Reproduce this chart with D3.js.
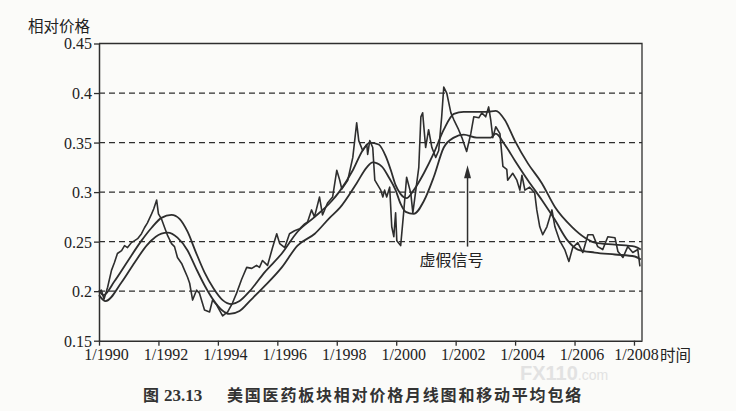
<!DOCTYPE html>
<html><head><meta charset="utf-8">
<script src="https://cdn.jsdelivr.net/npm/d3@7/dist/d3.min.js"></script>
<style>
body{margin:0;background:#fbfbf9}svg{display:block}
.serif{font-family:"Liberation Serif","Times New Roman","DejaVu Serif",serif}
.cjk{font-family:"Noto Sans CJK SC","Noto Sans",sans-serif}
</style>
</head><body><svg id="c" width="736" height="411"></svg>
<script>
// ---- data ----
const priceYears = [1990.00,1990.08,1990.17,1990.29,1990.42,1990.52,1990.62,1990.76,1990.86,1990.96,
1991.09,1991.20,1991.30,1991.43,1991.53,1991.63,1991.77,1991.84,1991.94,1992.00,1992.10,1992.21,1992.31,
1992.44,1992.54,1992.64,1992.78,1992.88,1992.98,1993.05,1993.15,1993.28,1993.38,1993.55,1993.72,1993.82,
1993.96,1994.16,1994.33,1994.49,1994.63,1994.80,1994.97,1995.14,1995.30,1995.40,1995.50,1995.67,1995.84,
1995.98,1996.08,1996.25,1996.41,1996.58,1996.75,1996.92,1997.02,1997.15,1997.25,1997.42,1997.52,1997.69,
1997.86,1998.00,1998.10,1998.17,1998.37,1998.54,1998.67,1998.74,1998.87,1999.01,1999.04,1999.11,1999.21,
1999.28,1999.34,1999.48,1999.55,1999.61,1999.68,1999.78,1999.85,1999.92,1999.98,2000.02,2000.15,2000.25,
2000.35,2000.49,2000.56,2000.66,2000.76,2000.83,2000.89,2000.99,2001.09,2001.20,2001.33,2001.43,2001.53,
2001.60,2001.70,2001.84,2001.94,2002.10,2002.21,2002.37,2002.51,2002.61,2002.78,2002.88,2003.01,2003.11,
2003.18,2003.25,2003.35,2003.49,2003.59,2003.72,2003.75,2003.92,2004.06,2004.16,2004.23,2004.33,2004.49,
2004.66,2004.73,2004.83,2004.93,2005.07,2005.24,2005.34,2005.50,2005.67,2005.81,2005.94,2006.11,2006.28,
2006.45,2006.62,2006.78,2006.95,2007.12,2007.36,2007.46,2007.63,2007.79,2007.96,2008.13,2008.20];
const priceValues = [0.200,0.201,0.192,0.204,0.221,0.229,0.238,0.241,0.246,0.244,
0.249,0.251,0.253,0.258,0.264,0.269,0.278,0.283,0.292,0.278,0.273,0.264,0.256,
0.248,0.245,0.234,0.228,0.221,0.214,0.208,0.191,0.201,0.198,0.181,0.179,0.191,
0.186,0.175,0.179,0.188,0.198,0.212,0.224,0.223,0.226,0.224,0.231,0.226,0.244,
0.258,0.248,0.244,0.258,0.261,0.263,0.268,0.270,0.282,0.275,0.295,0.277,0.289,
0.295,0.322,0.312,0.303,0.312,0.335,0.370,0.352,0.342,0.348,0.338,0.352,0.345,
0.312,0.309,0.302,0.295,0.302,0.295,0.305,0.265,0.255,0.279,0.251,0.246,0.279,
0.315,0.299,0.279,0.302,0.325,0.376,0.380,0.345,0.363,0.345,0.335,0.342,0.376,
0.406,0.400,0.380,0.373,0.363,0.355,0.341,0.359,0.376,0.375,0.380,0.376,0.386,
0.373,0.355,0.366,0.359,0.326,0.323,0.312,0.319,0.312,0.302,0.317,0.302,0.305,
0.299,0.282,0.265,0.257,0.265,0.282,0.265,0.251,0.242,0.230,0.244,0.249,0.239,
0.257,0.257,0.245,0.242,0.255,0.254,0.240,0.234,0.245,0.239,0.242,0.225];

const upperYears = [1990.00,1990.15,1990.52,1990.96,1991.43,1991.77,1992.10,1992.44,1992.71,1992.98,
1993.25,1993.55,1993.85,1994.16,1994.46,1994.73,1995.07,1995.57,1996.15,1996.68,1997.26,1997.83,1998.10,
1998.54,1998.87,1999.11,1999.41,1999.65,1999.82,1999.98,2000.15,2000.35,2000.59,2000.93,2001.26,2001.60,
2001.94,2002.27,2003.05,2003.35,2003.65,2003.99,2004.43,2004.90,2005.34,2005.91,2006.35,2006.68,2007.36,
2008.03,2008.23];
const upperValues = [0.201,0.196,0.210,0.230,0.251,0.264,0.274,0.277,0.273,0.260,
0.240,0.219,0.203,0.191,0.187,0.190,0.200,0.219,0.238,0.260,0.275,0.291,0.301,
0.322,0.342,0.350,0.348,0.336,0.322,0.307,0.298,0.294,0.302,0.319,0.339,0.363,
0.379,0.381,0.381,0.382,0.373,0.352,0.329,0.309,0.285,0.265,0.254,0.249,0.247,
0.245,0.242];

const lowerYears = [1990.00,1990.22,1990.76,1991.20,1991.63,1992.10,1992.31,1992.64,1992.98,1993.25,
1993.55,1993.85,1994.13,1994.39,1994.73,1995.07,1995.57,1996.15,1996.68,1997.26,1997.76,1998.10,1998.67,
1999.01,1999.21,1999.51,1999.75,1999.98,2000.15,2000.32,2000.59,2000.93,2001.26,2001.60,2001.94,2002.27,
2002.71,2003.18,2003.35,2003.65,2003.99,2004.43,2004.90,2005.34,2005.77,2006.11,2006.68,2007.36,2008.03,
2008.23];
const lowerValues = [0.196,0.190,0.209,0.229,0.247,0.258,0.259,0.254,0.241,0.224,
0.206,0.191,0.181,0.177,0.180,0.190,0.205,0.224,0.246,0.258,0.274,0.284,0.309,
0.325,0.330,0.326,0.315,0.302,0.288,0.280,0.278,0.291,0.315,0.345,0.355,0.358,
0.355,0.355,0.359,0.348,0.332,0.312,0.292,0.272,0.251,0.242,0.239,0.237,0.235,
0.232];

const yTickValues = [0.15,0.2,0.25,0.3,0.35,0.4,0.45];
const yTickLabels = ["0.15","0.2","0.25","0.3","0.35","0.4","0.45"];
const gridValues = [0.2,0.25,0.3,0.35,0.4];
const xTickYears = [1990,1992,1994,1996,1998,2000,2002,2004,2006,2008];
const xTickLabels = ["1/1990","1/1992","1/1994","1/1996","1/1998","1/2000","1/2002","1/2004","1/2006","1/2008"];
const yTitle = "相对价格";
const xTitle = "时间";
const caption = ["图","23.13","美国医药板块相对价格月线图和移动平均包络"];
const note = {text:"虚假信号", year:2002.4, from:0.245, to:0.327};
const watermark = ["FX110", ".com"];

// ---- drawing ----
const svg = d3.select("#c");
const ink = "#2e2e2e";

const x = d3.scaleLinear().domain([1990, 2008.27]).range([99, 642]);
const y = d3.scaleLinear().domain([0.15, 0.45]).range([340.7, 43.5]);

// faint watermark, placed in the free band below the tick labels
const wm = svg.append("text").attr("x",520).attr("y",380)
  .style("font-family","'Liberation Sans',Arial,sans-serif").attr("fill","#e2e2e2");
wm.append("tspan").attr("font-weight","bold").attr("font-size",20).text(watermark[0]);
wm.append("tspan").attr("font-size",14).text(watermark[1]);

// dashed grid
svg.append("g").selectAll("line").data(gridValues).join("line")
  .attr("x1",x.range()[0]).attr("x2",x.range()[1])
  .attr("y1",d=>y(d)).attr("y2",d=>y(d))
  .attr("stroke",ink).attr("stroke-width",1.2).attr("stroke-dasharray","6,4");

// frame top/right
svg.append("path")
  .attr("d",`M${x.range()[0]},${y(0.45)}H${x.range()[1]}V${y(0.15)}`)
  .attr("fill","none").attr("stroke",ink).attr("stroke-width",1.3);

// series
const mk = (ys, vs) => ys.map((t,i)=>[t, vs[i]]);
const smooth = d3.line().x(d=>x(d[0])).y(d=>y(d[1])).curve(d3.curveMonotoneX);
const jag = d3.line().x(d=>x(d[0])).y(d=>y(d[1]));
svg.append("path").datum(mk(upperYears,upperValues)).attr("d",smooth)
  .attr("fill","none").attr("stroke",ink).attr("stroke-width",1.8);
svg.append("path").datum(mk(lowerYears,lowerValues)).attr("d",smooth)
  .attr("fill","none").attr("stroke",ink).attr("stroke-width",1.8);
svg.append("path").datum(mk(priceYears,priceValues)).attr("d",jag)
  .attr("fill","none").attr("stroke",ink).attr("stroke-width",1.6).attr("stroke-linejoin","round");

// y axis
const yAxis = svg.append("g").attr("transform",`translate(${x.range()[0]},0)`)
  .call(d3.axisLeft(y).tickValues(yTickValues).tickSize(5).tickSizeOuter(0)
    .tickFormat((d,i)=>yTickLabels[i]));
yAxis.attr("font-family",null);
yAxis.select(".domain").attr("stroke",ink).attr("stroke-width",1.5);
yAxis.selectAll(".tick line").attr("stroke",ink).attr("stroke-width",1.3);
yAxis.selectAll(".tick text").attr("class","serif").attr("font-size",16)
  .attr("fill","#222").attr("x",-7).attr("dy","0.34em");

// x axis
const xAxis = svg.append("g").attr("transform",`translate(0,${y.range()[0]})`)
  .call(d3.axisBottom(x).tickValues(xTickYears).tickSize(5).tickSizeOuter(0)
    .tickFormat((d,i)=>xTickLabels[i]));
xAxis.attr("font-family",null);
xAxis.select(".domain").attr("stroke",ink).attr("stroke-width",1.5);
xAxis.selectAll(".tick line").attr("stroke",ink).attr("stroke-width",1.3);
xAxis.selectAll(".tick text").attr("class","serif").attr("font-size",16)
  .attr("fill","#222").attr("x",(d,i)=> i===xTickYears.length-1 ? 2 : 7).attr("y",8).attr("dy","0.71em");

// axis titles
svg.append("text").attr("class","cjk").attr("x",28).attr("y",32).attr("font-size",15.5)
  .attr("fill","#222").text(yTitle);
svg.append("text").attr("class","cjk").attr("x",660).attr("y",361).attr("font-size",15.5)
  .attr("fill","#222").text(xTitle);

// annotation arrow + text
const ax = x(note.year);
svg.append("line").attr("x1",ax).attr("x2",ax).attr("y1",y(note.from)).attr("y2",y(note.to)+12)
  .attr("stroke",ink).attr("stroke-width",1.5);
svg.append("path")
  .attr("d",`M${ax},${y(note.to)}L${ax-3.5},${y(note.to)+13}L${ax+3.5},${y(note.to)+13}Z`)
  .attr("fill",ink);
svg.append("text").attr("class","cjk").attr("x",ax-48).attr("y",y(note.from)+19)
  .attr("font-size",16).attr("fill","#222").text(note.text);

// caption
svg.append("text").attr("class","cjk").attr("x",143).attr("y",401).attr("font-weight","bold")
  .attr("font-size",16).attr("fill","#333").text(caption[0]);
svg.append("text").attr("class","serif").attr("x",164).attr("y",401).attr("font-weight","bold")
  .attr("font-size",17).attr("fill","#333").text(caption[1]);
svg.append("text").attr("class","cjk").attr("x",227).attr("y",401).attr("font-weight","bold")
  .attr("font-size",16).attr("letter-spacing",1.8).attr("fill","#333").text(caption[2]);
</script>
</body></html>
